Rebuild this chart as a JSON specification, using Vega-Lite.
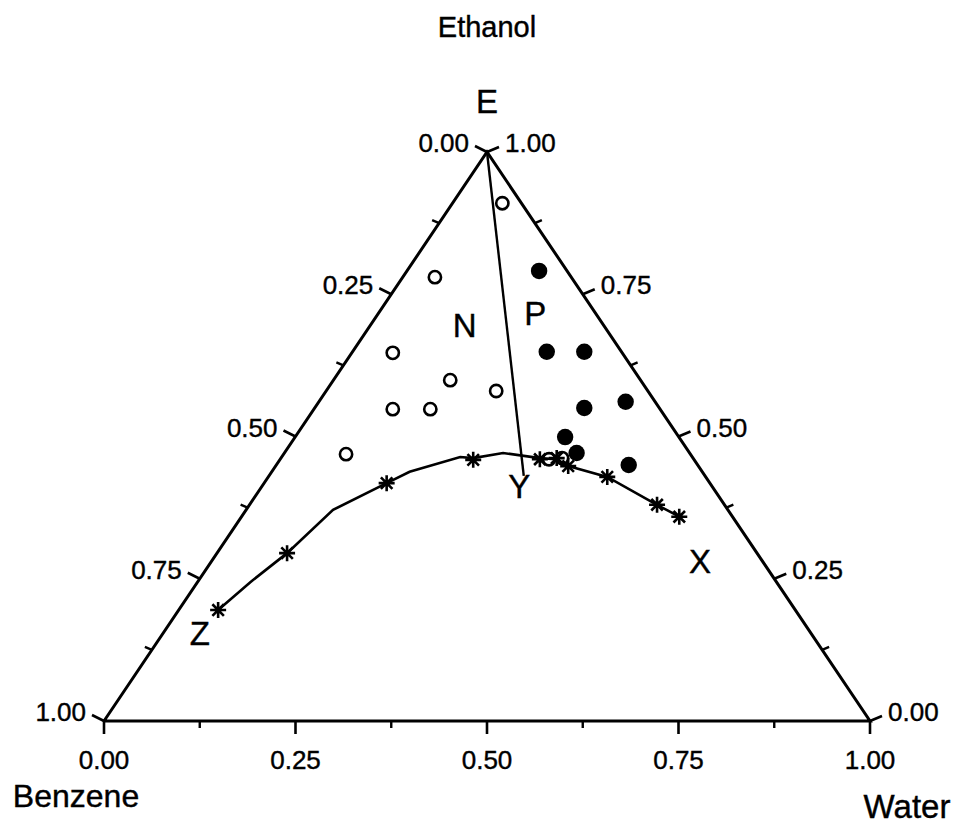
{
  "$schema": "https://vega.github.io/schema/vega-lite/v6.json",
  "width": 766,
  "height": 569,
  "autosize": {"type": "none"},
  "padding": {"left": 104, "top": 152, "right": 84, "bottom": 107},
  "background": "white",
  "config": {"view": {"stroke": null}, "text": {"font": "Liberation Sans", "color": "black"}},
  "datasets": {
    "triangle": [
      {"x": 0, "y": 0, "o": 0},
      {"x": 0.5, "y": 1, "o": 1},
      {"x": 1, "y": 0, "o": 2},
      {"x": 0, "y": 0, "o": 3}
    ],
    "divider": [
      {"x": 0.5, "y": 1, "o": 0},
      {"x": 0.548, "y": 0.431, "o": 1}
    ],
    "curve": [
      {"x": 0.149, "y": 0.195, "o": 0},
      {"x": 0.191, "y": 0.244, "o": 1},
      {"x": 0.239, "y": 0.295, "o": 2},
      {"x": 0.299, "y": 0.371, "o": 3},
      {"x": 0.369, "y": 0.418, "o": 4},
      {"x": 0.399, "y": 0.438, "o": 5},
      {"x": 0.465, "y": 0.464, "o": 6},
      {"x": 0.482, "y": 0.462, "o": 7},
      {"x": 0.521, "y": 0.471, "o": 8},
      {"x": 0.569, "y": 0.462, "o": 9},
      {"x": 0.591, "y": 0.46, "o": 10},
      {"x": 0.606, "y": 0.448, "o": 11},
      {"x": 0.657, "y": 0.429, "o": 12},
      {"x": 0.722, "y": 0.38, "o": 13},
      {"x": 0.751, "y": 0.359, "o": 14}
    ],
    "points": [
      {"group": "N", "x": 0.52, "y": 0.91},
      {"group": "N", "x": 0.432, "y": 0.78},
      {"group": "N", "x": 0.377, "y": 0.647},
      {"group": "N", "x": 0.452, "y": 0.599},
      {"group": "N", "x": 0.512, "y": 0.58},
      {"group": "N", "x": 0.377, "y": 0.548},
      {"group": "N", "x": 0.426, "y": 0.548},
      {"group": "N", "x": 0.316, "y": 0.469},
      {"group": "N", "x": 0.581, "y": 0.46},
      {"group": "N", "x": 0.598, "y": 0.462},
      {"group": "P", "x": 0.568, "y": 0.791},
      {"group": "P", "x": 0.578, "y": 0.649},
      {"group": "P", "x": 0.627, "y": 0.649},
      {"group": "P", "x": 0.627, "y": 0.55},
      {"group": "P", "x": 0.681, "y": 0.561},
      {"group": "P", "x": 0.602, "y": 0.499},
      {"group": "P", "x": 0.617, "y": 0.471},
      {"group": "P", "x": 0.685, "y": 0.45},
      {"group": "B", "x": 0.149, "y": 0.195},
      {"group": "B", "x": 0.239, "y": 0.295},
      {"group": "B", "x": 0.369, "y": 0.418},
      {"group": "B", "x": 0.482, "y": 0.459},
      {"group": "B", "x": 0.569, "y": 0.46},
      {"group": "B", "x": 0.591, "y": 0.462},
      {"group": "B", "x": 0.606, "y": 0.448},
      {"group": "B", "x": 0.657, "y": 0.429},
      {"group": "B", "x": 0.722, "y": 0.38},
      {"group": "B", "x": 0.751, "y": 0.359}
    ],
    "ticks": [
      {"edge": "L", "x": 0, "y": 0, "major": true, "label": "1.00"},
      {"edge": "L", "x": 0.0625, "y": 0.125, "major": false, "label": ""},
      {"edge": "L", "x": 0.125, "y": 0.25, "major": true, "label": "0.75"},
      {"edge": "L", "x": 0.1875, "y": 0.375, "major": false, "label": ""},
      {"edge": "L", "x": 0.25, "y": 0.5, "major": true, "label": "0.50"},
      {"edge": "L", "x": 0.3125, "y": 0.625, "major": false, "label": ""},
      {"edge": "L", "x": 0.375, "y": 0.75, "major": true, "label": "0.25"},
      {"edge": "L", "x": 0.4375, "y": 0.875, "major": false, "label": ""},
      {"edge": "L", "x": 0.5, "y": 1, "major": true, "label": "0.00"},
      {"edge": "R", "x": 1, "y": 0, "major": true, "label": "0.00"},
      {"edge": "R", "x": 0.9375, "y": 0.125, "major": false, "label": ""},
      {"edge": "R", "x": 0.875, "y": 0.25, "major": true, "label": "0.25"},
      {"edge": "R", "x": 0.8125, "y": 0.375, "major": false, "label": ""},
      {"edge": "R", "x": 0.75, "y": 0.5, "major": true, "label": "0.50"},
      {"edge": "R", "x": 0.6875, "y": 0.625, "major": false, "label": ""},
      {"edge": "R", "x": 0.625, "y": 0.75, "major": true, "label": "0.75"},
      {"edge": "R", "x": 0.5625, "y": 0.875, "major": false, "label": ""},
      {"edge": "R", "x": 0.5, "y": 1, "major": true, "label": "1.00"},
      {"edge": "B", "x": 0, "y": 0, "major": true, "label": "0.00"},
      {"edge": "B", "x": 0.125, "y": 0, "major": false, "label": ""},
      {"edge": "B", "x": 0.25, "y": 0, "major": true, "label": "0.25"},
      {"edge": "B", "x": 0.375, "y": 0, "major": false, "label": ""},
      {"edge": "B", "x": 0.5, "y": 0, "major": true, "label": "0.50"},
      {"edge": "B", "x": 0.625, "y": 0, "major": false, "label": ""},
      {"edge": "B", "x": 0.75, "y": 0, "major": true, "label": "0.75"},
      {"edge": "B", "x": 0.875, "y": 0, "major": false, "label": ""},
      {"edge": "B", "x": 1, "y": 0, "major": true, "label": "1.00"}
    ],
    "corners": [
      {"name": "Ethanol", "x": 0.5, "y": 1},
      {"name": "Benzene", "x": 0, "y": 0},
      {"name": "Water", "x": 1, "y": 0}
    ],
    "letters": [
      {"label": "E", "x": 0.5, "y": 1.086},
      {"label": "N", "x": 0.471, "y": 0.692},
      {"label": "P", "x": 0.563, "y": 0.714},
      {"label": "Y", "x": 0.542, "y": 0.409},
      {"label": "X", "x": 0.778, "y": 0.278},
      {"label": "Z", "x": 0.125, "y": 0.151}
    ]
  },
  "encoding": {
    "x": {"field": "x", "type": "quantitative", "scale": {"domain": [0, 1], "nice": false, "zero": false}, "axis": null},
    "y": {"field": "y", "type": "quantitative", "scale": {"domain": [0, 1], "nice": false, "zero": false}, "axis": null}
  },
  "layer": [
    {
      "data": {"name": "triangle"},
      "mark": {"type": "line", "color": "black", "strokeWidth": 3, "strokeJoin": "miter"},
      "encoding": {"order": {"field": "o", "type": "quantitative"}}
    },
    {
      "data": {"name": "divider"},
      "mark": {"type": "line", "color": "black", "strokeWidth": 2.4},
      "encoding": {"order": {"field": "o", "type": "quantitative"}}
    },
    {
      "data": {"name": "curve"},
      "mark": {"type": "line", "color": "black", "strokeWidth": 2.6},
      "encoding": {"order": {"field": "o", "type": "quantitative"}}
    },
    {
      "data": {"name": "ticks"},
      "transform": [{"filter": "datum.edge === 'L' && datum.major"}],
      "mark": {"type": "rule", "color": "black", "strokeWidth": 2.6, "x2Offset": -12, "y2Offset": -6},
      "encoding": {"x2": {"field": "x"}, "y2": {"field": "y"}}
    },
    {
      "data": {"name": "ticks"},
      "transform": [{"filter": "datum.edge === 'L' && !datum.major"}],
      "mark": {"type": "rule", "color": "black", "strokeWidth": 2.4, "x2Offset": -7, "y2Offset": -3},
      "encoding": {"x2": {"field": "x"}, "y2": {"field": "y"}}
    },
    {
      "data": {"name": "ticks"},
      "transform": [{"filter": "datum.edge === 'R' && datum.major"}],
      "mark": {"type": "rule", "color": "black", "strokeWidth": 2.6, "x2Offset": 12, "y2Offset": -5},
      "encoding": {"x2": {"field": "x"}, "y2": {"field": "y"}}
    },
    {
      "data": {"name": "ticks"},
      "transform": [{"filter": "datum.edge === 'R' && !datum.major"}],
      "mark": {"type": "rule", "color": "black", "strokeWidth": 2.4, "x2Offset": 7, "y2Offset": -3},
      "encoding": {"x2": {"field": "x"}, "y2": {"field": "y"}}
    },
    {
      "data": {"name": "ticks"},
      "transform": [{"filter": "datum.edge === 'B' && datum.major"}],
      "mark": {"type": "rule", "color": "black", "strokeWidth": 2.6, "y2Offset": 13},
      "encoding": {"x2": {"field": "x"}, "y2": {"field": "y"}}
    },
    {
      "data": {"name": "ticks"},
      "transform": [{"filter": "datum.edge === 'B' && !datum.major"}],
      "mark": {"type": "rule", "color": "black", "strokeWidth": 2.4, "y2Offset": 7},
      "encoding": {"x2": {"field": "x"}, "y2": {"field": "y"}}
    },
    {
      "data": {"name": "ticks"},
      "transform": [{"filter": "datum.edge === 'L' && datum.major"}],
      "mark": {"type": "text", "fontSize": 26, "align": "right", "baseline": "middle", "dx": -18, "dy": -8, "stroke": "black", "strokeWidth": 0.4},
      "encoding": {"text": {"field": "label"}}
    },
    {
      "data": {"name": "ticks"},
      "transform": [{"filter": "datum.edge === 'R' && datum.major"}],
      "mark": {"type": "text", "fontSize": 26, "align": "left", "baseline": "middle", "dx": 18, "dy": -8, "stroke": "black", "strokeWidth": 0.4},
      "encoding": {"text": {"field": "label"}}
    },
    {
      "data": {"name": "ticks"},
      "transform": [{"filter": "datum.edge === 'B' && datum.major"}],
      "mark": {"type": "text", "fontSize": 26, "align": "center", "baseline": "middle", "dy": 40, "stroke": "black", "strokeWidth": 0.4},
      "encoding": {"text": {"field": "label"}}
    },
    {
      "data": {"name": "points"},
      "transform": [{"filter": "datum.group === 'N'"}],
      "mark": {"type": "point", "shape": "circle", "filled": false, "stroke": "black", "strokeWidth": 2.6, "size": 150, "opacity": 1}
    },
    {
      "data": {"name": "points"},
      "transform": [{"filter": "datum.group === 'P'"}],
      "mark": {"type": "point", "shape": "circle", "filled": true, "fill": "black", "stroke": null, "size": 270, "opacity": 1}
    },
    {
      "data": {"name": "points"},
      "transform": [{"filter": "datum.group === 'B'"}],
      "mark": {"type": "point", "shape": "M-1,0L1,0M0,-1L0,1M-0.72,-0.72L0.72,0.72M-0.72,0.72L0.72,-0.72", "filled": false, "stroke": "black", "strokeWidth": 2.6, "size": 256, "opacity": 1}
    },
    {
      "data": {"name": "letters"},
      "mark": {"type": "text", "fontSize": 33, "align": "center", "baseline": "middle", "stroke": "black", "strokeWidth": 0.4},
      "encoding": {"text": {"field": "label"}}
    },
    {
      "data": {"name": "corners"},
      "transform": [{"filter": "datum.name === 'Ethanol'"}],
      "mark": {"type": "text", "fontSize": 29, "align": "center", "baseline": "middle", "dy": -124, "stroke": "black", "strokeWidth": 0.4},
      "encoding": {"text": {"field": "name"}}
    },
    {
      "data": {"name": "corners"},
      "transform": [{"filter": "datum.name === 'Benzene'"}],
      "mark": {"type": "text", "fontSize": 32, "align": "center", "baseline": "middle", "dx": -28, "dy": 76, "stroke": "black", "strokeWidth": 0.4},
      "encoding": {"text": {"field": "name"}}
    },
    {
      "data": {"name": "corners"},
      "transform": [{"filter": "datum.name === 'Water'"}],
      "mark": {"type": "text", "fontSize": 33, "align": "center", "baseline": "middle", "dx": 37, "dy": 87, "stroke": "black", "strokeWidth": 0.4},
      "encoding": {"text": {"field": "name"}}
    }
  ]
}
